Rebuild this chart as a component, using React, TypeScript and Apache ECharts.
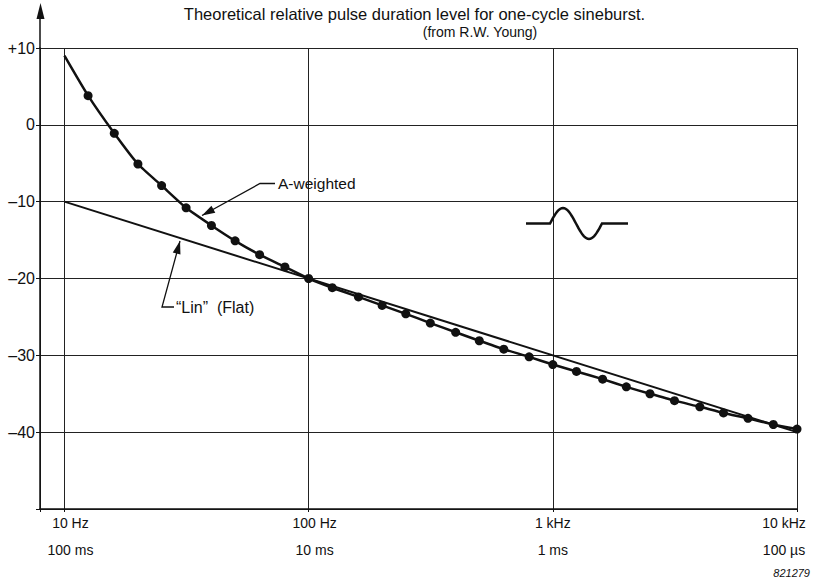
import React, { useEffect, useRef } from 'react';
import * as echarts from 'echarts';

// One-third-octave frequencies (Hz) of the A-weighted curve
const freqsHz = [10, 12.5, 16, 20, 25, 31.5, 40, 50, 63, 80, 100, 125, 160, 200, 250, 315, 400, 500, 630, 800, 1000, 1250, 1600, 2000, 2500, 3150, 4000, 5000, 6300, 8000, 10000];
// Relative pulse duration level, A-weighted (dB)
const aWeightedDb = [9.0, 3.8, -1.1, -5.1, -7.9, -10.8, -13.1, -15.1, -16.9, -18.5, -20.0, -21.2, -22.4, -23.5, -24.6, -25.8, -27.0, -28.1, -29.2, -30.2, -31.2, -32.1, -33.1, -34.1, -35.0, -35.9, -36.7, -37.5, -38.2, -39.0, -39.6];
// "Lin" (Flat) straight line
const linFreqsHz = [10, 10000];
const linDb = [-10, -40];
// Axis tick labels
const tickFreqs = [10, 100, 1000, 10000];
const freqLabels = ['10 Hz', '100 Hz', '1 kHz', '10 kHz'];
const durationLabels = ['100 ms', '10 ms', '1 ms', '100 \u00b5s'];

const FONT = '"Liberation Sans", Arial, Helvetica, sans-serif';
const INK = '#111';

function arrowHead(tip: number[], from: number[], len: number, half: number) {
  const dx = tip[0] - from[0];
  const dy = tip[1] - from[1];
  const d = Math.sqrt(dx * dx + dy * dy);
  const ux = dx / d;
  const uy = dy / d;
  const bx = tip[0] - ux * len;
  const by = tip[1] - uy * len;
  return [tip, [bx - uy * half, by + ux * half], [bx + uy * half, by - ux * half]];
}

function sinePoints() {
  const pts: number[][] = [[526, 223.5], [550, 223.5]];
  const n = 40;
  for (let i = 1; i <= n; i++) {
    const t = i / n;
    pts.push([550 + 52 * t, 223.5 - 15.5 * Math.sin(2 * Math.PI * t)]);
  }
  pts.push([628, 223.5]);
  return pts;
}

export default function App() {
  const ref = useRef<HTMLDivElement>(null);
  useEffect(() => {
    if (!ref.current) return;
    const chart = echarts.init(ref.current, undefined, { renderer: 'svg' });

    const aData = freqsHz.map((f, i) =>
      i === 0 ? { value: [f, aWeightedDb[i]], symbol: 'none' } : { value: [f, aWeightedDb[i]] }
    );
    const linData = linFreqsHz.map((f, i) => [f, linDb[i]]);

    const aTip = [202, 215.5];
    const aElbow = [260, 183.5];
    const linTip = [180, 241];
    const linElbow = [162, 307];

    const richBase = { fontFamily: FONT, fontSize: 14, color: INK, lineHeight: 27 };

    chart.setOption({
      animation: false,
      backgroundColor: '#fff',
      grid: { left: 40, right: 20, top: 48, bottom: 71, containLabel: false, outerBoundsMode: 'none' },
      xAxis: {
        type: 'log',
        logBase: 10,
        min: Math.pow(10, 0.9),
        max: 10000,
        axisLine: { show: true, onZero: false, lineStyle: { color: INK, width: 1.5 } },
        axisTick: { show: true, length: 3, lineStyle: { color: INK } },
        splitLine: { show: true, lineStyle: { color: '#222', width: 1 } },
        minorTick: { show: false },
        minorSplitLine: { show: false },
        axisLabel: {
          margin: 0,
          fontFamily: FONT,
          fontSize: 14,
          color: INK,
          lineHeight: 27,
          formatter: (v: number) => {
            const i = tickFreqs.findIndex((f) => Math.abs(f - v) / f < 1e-6);
            if (i < 0) return '';
            const st = ['l', 'l', 'c', 'r'][i];
            return `{${st}|${freqLabels[i]}}\n{${st}|${durationLabels[i]}}`;
          },
          rich: {
            l: { ...richBase, padding: [0, 0, 0, 12] },
            c: { ...richBase },
            r: { ...richBase, padding: [0, 26, 0, 0] },
          },
        },
      },
      yAxis: {
        type: 'value',
        min: -50,
        max: 10,
        interval: 10,
        axisLine: { show: true, onZero: false, lineStyle: { color: INK, width: 1.5 } },
        axisTick: { show: true, length: 4, lineStyle: { color: INK } },
        splitLine: { show: true, lineStyle: { color: '#222', width: 1 } },
        axisLabel: {
          margin: 5,
          fontFamily: FONT,
          fontSize: 16,
          color: INK,
          formatter: (v: number) => (v === -50 ? '' : v > 0 ? '+' + v : v < 0 ? '\u2013' + -v : '0'),
        },
      },
      series: [
        {
          name: 'Lin (Flat)',
          type: 'line',
          data: linData,
          symbol: 'none',
          lineStyle: { color: INK, width: 2 },
          z: 2,
        },
        {
          name: 'A-weighted',
          type: 'line',
          data: aData,
          symbol: 'circle',
          symbolSize: 9,
          itemStyle: { color: INK },
          lineStyle: { color: INK, width: 2.5 },
          smooth: 0.2,
          z: 3,
        },
      ],
      graphic: [
        // y axis extension with arrow
        { type: 'line', shape: { x1: 40, y1: 48, x2: 40, y2: 14 }, style: { stroke: INK, lineWidth: 1.5 }, z: 100 },
        { type: 'polygon', shape: { points: [[40.5, 3], [36.5, 19], [44.5, 19]] }, style: { fill: INK }, z: 100 },
        // title
        {
          type: 'text', x: 414.5, y: 14, z: 100,
          style: { text: 'Theoretical relative pulse duration level for one-cycle sineburst.', font: `16.5px ${FONT}`, fill: INK, align: 'center', verticalAlign: 'middle' },
        },
        {
          type: 'text', x: 480, y: 32, z: 100,
          style: { text: '(from R.W. Young)', font: `14px ${FONT}`, fill: INK, align: 'center', verticalAlign: 'middle' },
        },
        // A-weighted annotation
        { type: 'polyline', shape: { points: [[275, 183.5], aElbow, aTip] }, style: { stroke: INK, lineWidth: 1.3, fill: 'none' }, z: 100 },
        { type: 'polygon', shape: { points: arrowHead(aTip, aElbow, 13, 4) }, style: { fill: INK }, z: 100 },
        {
          type: 'text', x: 278, y: 183.5, z: 100,
          style: { text: 'A-weighted', font: `15.5px ${FONT}`, fill: INK, align: 'left', verticalAlign: 'middle' },
        },
        // Lin annotation
        { type: 'polyline', shape: { points: [[174, 307], linElbow, linTip] }, style: { stroke: INK, lineWidth: 1.3, fill: 'none' }, z: 100 },
        { type: 'polygon', shape: { points: arrowHead(linTip, linElbow, 13, 4) }, style: { fill: INK }, z: 100 },
        {
          type: 'text', x: 176, y: 307, z: 100,
          style: { text: '\u201cLin\u201d  (Flat)', font: `16px ${FONT}`, fill: INK, align: 'left', verticalAlign: 'middle' },
        },
        // sineburst glyph
        { type: 'polyline', shape: { points: sinePoints() }, style: { stroke: INK, lineWidth: 2.5, fill: 'none' }, z: 100 },
        // figure number
        {
          type: 'text', x: 810, y: 573, z: 100,
          style: { text: '821279', font: `italic 11px ${FONT}`, fill: INK, align: 'right', verticalAlign: 'middle' },
        },
      ],
    });
    return () => chart.dispose();
  }, []);
  return <div ref={ref} style={{ position: 'fixed', left: 0, top: 0, width: 817, height: 580, background: '#fff' }} />;
}
